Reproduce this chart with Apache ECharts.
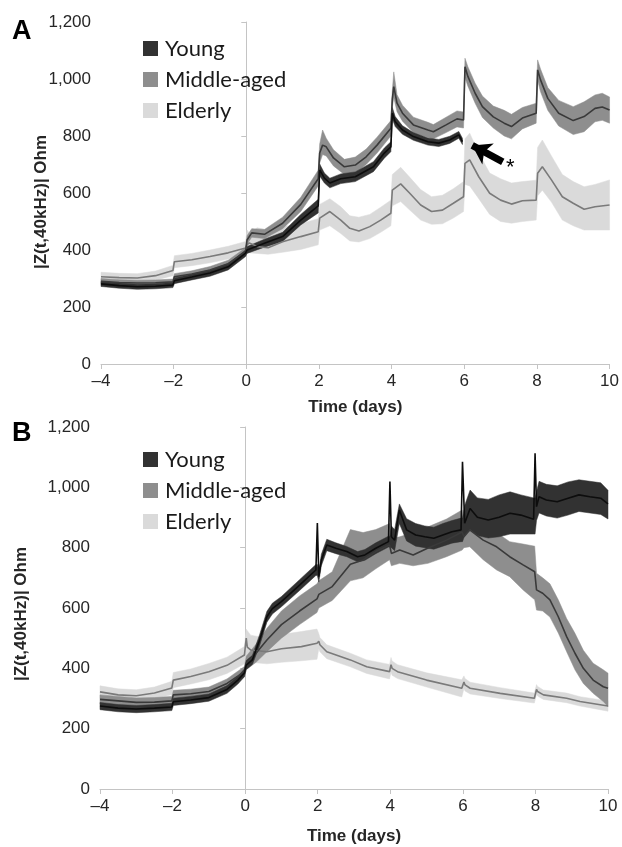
<!DOCTYPE html>
<html>
<head>
<meta charset="utf-8">
<script src="https://cdn.jsdelivr.net/npm/echarts@6/dist/echarts.min.js"></script>
<style>
html,body{margin:0;padding:0;background:#fff;}
#chart{width:622px;height:847px;}
</style>
</head>
<body>
<div id="chart"></div>
<script>
// ---------- Panel A ----------
const A_young_day  = [-4,-3.5,-3,-2.5,-2.02, -1.98,-1.5,-1,-0.5,-0.02, 0.02,0.5,1,1.5,1.98, 2.02,2.15,2.3,2.6,3,3.5,3.8,3.98, 4.02,4.1,4.3,4.6,5,5.3,5.6,5.85,5.95];
const A_young_mean = [281,275,271,273,277, 292,305,319,341,389, 400,424,447,505,555, 681,652,635,650,657,692,740,762, 880,850,821,798,780,775,786,804,780];
const A_young_low  = [272,266,262,264,268, 282,295,308,330,377, 388,410,430,488,530, 660,635,618,633,640,675,722,745, 860,833,806,785,768,763,774,792,770];
const A_young_high = [290,284,280,282,286, 302,315,330,352,400, 412,438,462,525,578, 702,670,652,667,674,710,758,780, 900,868,836,812,793,788,799,816,792];

const A_middle_day  = [-4,-3.5,-3,-2.5,-2.02, -1.98,-1.5,-1,-0.5,-0.02, 0.02,0.15,0.5,1,1.5,1.98, 2.02,2.1,2.2,2.4,2.7,3,3.3,3.6,3.98, 4.02,4.06,4.15,4.3,4.6,5,5.15,5.5,5.8,5.98, 6.02,6.1,6.3,6.5,6.8,7.1,7.3,7.6,7.98, 8.02,8.1,8.3,8.6,9,9.3,9.6,9.8,10];
const A_middle_mean = [290,286,284,285,288, 306,316,330,352,394, 435,460,455,494,560,650, 740,768,762,723,692,698,727,768,827, 930,973,915,880,839,821,815,839,860,856, 1043,1009,950,903,867,845,833,863,880, 1032,997,932,880,854,868,897,902,891];
const A_middle_low  = [280,276,274,275,278, 295,305,318,340,380, 420,445,440,475,535,625, 705,735,730,695,665,670,700,740,800, 900,935,885,852,812,795,790,812,832,828, 1005,975,915,865,828,800,790,825,845, 995,955,890,835,805,815,850,855,845];
const A_middle_high = [300,296,294,295,298, 317,327,342,364,408, 450,475,472,515,585,680, 772,821,792,752,718,726,754,796,854, 960,1025,945,908,866,848,840,866,888,884, 1073,1043,985,940,905,890,876,900,915, 1067,1035,970,925,903,920,944,950,937];

const A_elderly_day  = [-4,-3.5,-3,-2.5,-2.02, -1.98,-1.5,-1,-0.5,-0.02, 0.02,0.08,0.3,0.6,1,1.5,1.98, 2.02,2.3,2.6,2.85,3.1,3.4,3.7,3.98, 4.02,4.25,4.5,4.8,5.1,5.4,5.7,5.98, 6.02,6.15,6.4,6.7,7,7.3,7.6,7.98, 8.02,8.15,8.4,8.7,9,9.3,9.6,10];
const A_elderly_mean = [306,303,302,310,328, 359,366,377,390,407, 418,425,412,408,429,447,464, 512,535,505,476,467,482,505,529, 610,632,599,558,535,540,564,587, 704,716,657,599,575,561,573,575, 669,692,646,587,564,543,552,558];
const A_elderly_low  = [290,288,287,294,310, 338,345,355,368,385, 390,390,388,385,392,402,418, 470,485,458,432,428,440,462,485, 555,570,540,505,490,492,512,535, 630,625,580,525,500,494,500,505, 590,610,568,505,485,470,470,470];
const A_elderly_high = [322,318,317,326,346, 380,388,400,413,430, 470,460,478,470,482,492,510, 560,580,552,520,515,525,550,575, 665,690,655,612,587,592,615,640, 790,810,740,670,650,635,640,645, 760,786,730,665,640,622,630,646];

// ---------- Panel B ----------
const B_young_day  = [-4,-3.5,-3,-2.5,-2.02, -1.98,-1.5,-1,-0.5,-0.2,-0.02, 0.03,0.2,0.4,0.6,0.75,1,1.5,1.95,1.99, 2.03,2.1,2.25,2.5,2.8,3.1,3.3,3.6,3.95,3.99, 4.03,4.12,4.25,4.45,4.7,4.95,5.2,5.45,5.7,5.95,5.99, 6.05,6.2,6.4,6.7,7,7.3,7.6,7.95,7.99, 8.03,8.1,8.3,8.6,8.9,9.2,9.5,9.8,10];
const B_young_mean = [275,268,265,268,272, 289,295,303,330,361,385, 411,428,494,571,598,621,676,726,882, 704,759,809,798,787,770,776,798,820,1019, 836,825,925,859,842,836,831,842,853,859,1085, 881,930,901,892,901,914,908,894,1113, 936,969,958,952,964,975,969,964,945];
const B_young_low  = [263,256,253,256,260, 277,283,291,317,348,372, 396,413,476,553,580,604,658,708,708, 686,740,790,780,770,753,758,780,802,802, 800,790,880,822,805,800,795,805,815,820,820, 840,860,840,832,836,845,845,845,845, 890,915,905,898,908,920,915,910,895];
const B_young_high = [287,280,277,280,284, 301,307,315,343,374,398, 426,443,512,589,616,638,694,744,744, 722,778,828,816,804,787,794,816,838,838, 872,860,945,896,880,872,868,880,890,898,898, 940,991,965,960,975,985,975,965,965, 985,1020,1010,1005,1018,1025,1020,1015,990];

const B_middle_day  = [-4,-3.5,-3,-2.5,-2.02, -1.98,-1.5,-1,-0.5,-0.02, 0.03,0.3,0.6,1,1.5,1.98, 2.03,2.4,2.9,3.25,3.6,3.98, 4.03,4.26,4.63,5.04,5.55,5.98, 6.03,6.19,6.56,6.93,7.29,7.66,7.98, 8.03,8.2,8.4,8.63,8.86,9.09,9.32,9.59,9.87,10];
const B_middle_mean = [297,292,287,288,292, 312,316,323,350,389, 417,450,494,545,590,630, 645,671,745,759,787,809, 781,792,776,799,825,852, 836,859,825,803,770,743,720, 660,649,627,571,505,450,400,361,339,334];
const B_middle_low  = [282,277,272,273,277, 297,301,308,335,372, 395,420,455,500,545,585, 600,625,690,700,730,760, 740,748,740,748,770,792, 800,803,760,726,704,660,627, 593,590,570,517,455,395,350,317,290,273];
const B_middle_high = [312,307,302,303,307, 327,331,338,365,406, 440,480,533,590,640,680, 690,720,860,850,860,880, 830,836,850,869,895,925, 880,900,880,850,820,812,805, 715,700,680,627,565,516,460,417,395,384];

const B_elderly_day  = [-4,-3.5,-3,-2.5,-2.02, -1.98,-1.5,-1,-0.5,-0.02, 0.03,0.06,0.15,0.6,1,1.55,1.98, 2.03,2.06,2.25,2.9,3.35,3.98, 4.02,4.05,4.2,5,5.97, 6.03,6.06,6.2,7.03,7.97, 8.03,8.06,8.22,8.86,9.23,10];
const B_elderly_mean = [322,312,309,318,335, 361,373,389,410,444, 500,470,461,455,465,472,483, 490,478,455,428,405,389, 412,400,389,361,334, 355,345,334,317,301, 330,323,312,301,290,275];
const B_elderly_low  = [300,292,290,298,313, 336,348,362,383,415, 420,420,420,415,420,425,430, 465,455,432,405,383,365, 388,377,366,338,305, 333,325,315,300,285, 314,308,297,286,275,258];
const B_elderly_high = [342,332,329,338,357, 386,398,416,437,472, 530,525,510,500,512,522,530, 515,502,478,450,428,413, 436,424,412,385,362, 375,366,354,336,318, 346,340,328,318,306,292];

// ---------- Axis ticks / labels ----------
const xTicks = [-4,-2,0,2,4,6,8,10];
const yTicks = [0,200,400,600,800,1000,1200];
const groups = ['Young','Middle-aged','Elderly'];

// ---------- styles ----------
const bandColor = {'Young':'#323232','Middle-aged':'#8e8e8e','Elderly':'#dadada'};
const lineColor = {'Young':'#0d0d0d','Middle-aged':'#3a3a3a','Elderly':'#7a7a7a'};
const FONT = 'Liberation Sans';

function bandSeries(name, g, day, low, high, z){
  const color = bandColor[name];
  return {
    name: name, type:'custom', xAxisIndex:g, yAxisIndex:g, z:z, silent:true,
    itemStyle:{color:color},
    data: day.map((d,i)=>[d, low[i], high[i]]),
    encode:{x:0, y:[1,2]},
    renderItem: function(params, api){
      if (params.dataIndex !== 0) return null;
      const pts = [];
      for (let i=0;i<day.length;i++) pts.push(api.coord([day[i], high[i]]));
      for (let i=day.length-1;i>=0;i--) pts.push(api.coord([day[i], low[i]]));
      return {type:'polygon', shape:{points:pts}, style:{fill:color, stroke:color, lineWidth:0.5}};
    }
  };
}
function meanSeries(name, g, day, mean, z, extra){
  const s = {
    name: name+' mean', type:'line', xAxisIndex:g, yAxisIndex:g, z:z, silent:true,
    symbol:'none', data: day.map((d,i)=>[d, mean[i]]),
    lineStyle:{color:lineColor[name], width:1.6}
  };
  return Object.assign(s, extra||{});
}

const arrowA = {
  markLine:{
    silent:true, animation:false, symbol:['none','arrow'], symbolSize:18,
    itemStyle:{color:'#000'},
    lineStyle:{color:'#000', width:7, type:'solid', opacity:1},
    label:{show:false},
    emphasis:{disabled:true},
    data:[[{coord:[7.06,709]},{coord:[6.22,767]}]]
  },
  markPoint:{
    silent:true, animation:false,
    data:[{coord:[7.27,688], symbol:'circle', symbolSize:1, itemStyle:{color:'rgba(0,0,0,0)'},
      label:{show:true, position:'inside', formatter:'*', fontSize:22, color:'#000', fontFamily:FONT}}]
  }
};

function xAxisCfg(g, gap){
  return {
    type:'value', gridIndex:g, min:-4, max:10, interval:2,
    axisLine:{show:true, lineStyle:{color:'#c4c4c4', width:1}},
    axisTick:{show:true, length:5, lineStyle:{color:'#c4c4c4'}},
    splitLine:{show:false},
    axisLabel:{fontSize:17, color:'#262626', fontFamily:FONT, margin:9,
      formatter: v => (v<0 ? '\u2013'+Math.abs(v) : String(v))},
    name:'Time (days)', nameLocation:'middle', nameGap:gap,
    nameTextStyle:{fontSize:17, fontWeight:'bold', color:'#262626', fontFamily:FONT}
  };
}
function yAxisCfg(g, gap, pad){
  return {
    type:'value', gridIndex:g, min:0, max:1200, interval:200,
    axisLine:{show:true, lineStyle:{color:'#c4c4c4', width:1}},
    axisTick:{show:true, length:5, lineStyle:{color:'#c4c4c4'}},
    splitLine:{show:false},
    axisLabel:{fontSize:17, color:'#262626', fontFamily:FONT, margin:10,
      formatter: v => v.toLocaleString('en-US')},
    name:'|Z(t,40kHz)| Ohm', nameLocation:'middle', nameGap:gap, nameRotate:90,
    nameMoveOverlap:false,
    nameTextStyle:{fontSize:17, fontWeight:'bold', color:'#262626', fontFamily:FONT, padding:[0,pad,0,0]}
  };
}
function legendCfg(top){
  return {
    data: groups, orient:'vertical', left:138, top:top, icon:'rect',
    itemWidth:15, itemHeight:15, itemGap:8, selectedMode:false,
    textStyle:{fontSize:22, color:'#1a1a1a', fontFamily:'Lato', lineHeight:23, padding:[0,0,0,2]}
  };
}

const chart = echarts.init(document.getElementById('chart'), null, {renderer:'canvas'});
chart.setOption({
  animation:false,
  backgroundColor:'#ffffff',
  grid:[
    {left:101, top:22, width:509, height:342},
    {left:100, top:427, width:508, height:362}
  ],
  xAxis:[xAxisCfg(0,35), xAxisCfg(1,39)],
  yAxis:[yAxisCfg(0,51,18), yAxisCfg(1,70,12)],
  legend:[legendCfg(32), legendCfg(443)],
  graphic:[
    {type:'text', left:12, top:18, style:{text:'A', font:'bold 27px "Liberation Sans"', fill:'#000'}},
    {type:'text', left:12, top:420, style:{text:'B', font:'bold 27px "Liberation Sans"', fill:'#000'}}
  ],
  series:[
    bandSeries('Elderly',0,A_elderly_day,A_elderly_low,A_elderly_high,1),
    bandSeries('Middle-aged',0,A_middle_day,A_middle_low,A_middle_high,2),
    bandSeries('Young',0,A_young_day,A_young_low,A_young_high,3),
    meanSeries('Elderly',0,A_elderly_day,A_elderly_mean,4),
    meanSeries('Middle-aged',0,A_middle_day,A_middle_mean,5),
    meanSeries('Young',0,A_young_day,A_young_mean,6,arrowA),
    bandSeries('Elderly',1,B_elderly_day,B_elderly_low,B_elderly_high,1),
    bandSeries('Middle-aged',1,B_middle_day,B_middle_low,B_middle_high,2),
    bandSeries('Young',1,B_young_day,B_young_low,B_young_high,3),
    meanSeries('Elderly',1,B_elderly_day,B_elderly_mean,4),
    meanSeries('Middle-aged',1,B_middle_day,B_middle_mean,5),
    meanSeries('Young',1,B_young_day,B_young_mean,6)
  ]
});
</script>
</body>
</html>
